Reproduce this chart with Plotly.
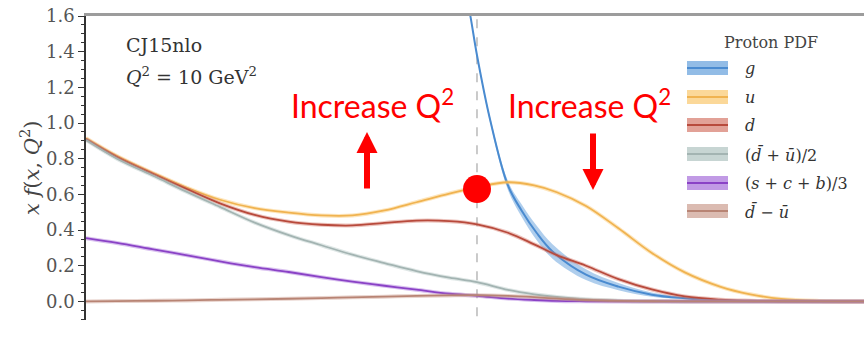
import plotly.graph_objects as go

# ---------------- data ----------------
x_grid = [0.01, 0.012, 0.015, 0.018, 0.022, 0.027, 0.033, 0.04, 0.048, 0.058, 0.07, 0.085,
          0.1, 0.12, 0.14, 0.16, 0.19, 0.23, 0.28, 0.34, 0.42, 0.5, 0.6, 0.75, 1.0]
u_vals = [0.915, 0.815, 0.715, 0.64, 0.57, 0.523, 0.498, 0.482, 0.482, 0.51, 0.556, 0.605,
          0.64, 0.668, 0.65, 0.612, 0.535, 0.41, 0.272, 0.163, 0.082, 0.04, 0.014, 0.003, 0.0]
d_vals = [0.91, 0.81, 0.71, 0.632, 0.55, 0.485, 0.447, 0.43, 0.426, 0.44, 0.453, 0.45,
          0.432, 0.385, 0.32, 0.26, 0.2, 0.125, 0.067, 0.028, 0.01, 0.004, 0.001, 0.0, 0.0]
sea_vals = [0.905, 0.80, 0.70, 0.617, 0.53, 0.442, 0.372, 0.315, 0.262, 0.215, 0.17, 0.133,
            0.108, 0.065, 0.04, 0.025, 0.012, 0.004, 0.001, 0.0, 0.0, 0.0, 0.0, 0.0, 0.0]
scb_vals = [0.355, 0.328, 0.29, 0.26, 0.225, 0.192, 0.165, 0.136, 0.111, 0.088, 0.066, 0.043,
            0.032, 0.016, 0.008, 0.003, 0.001, 0.0, 0.0, 0.0, 0.0, 0.0, 0.0, 0.0, 0.0]
dmu_vals = [0.0, 0.002, 0.004, 0.006, 0.009, 0.012, 0.015, 0.019, 0.023, 0.027, 0.031, 0.034,
            0.035, 0.031, 0.024, 0.016, 0.008, 0.003, 0.001, 0.0, 0.0, 0.0, 0.0, 0.0, 0.0]

g_x = [0.09, 0.096, 0.1, 0.108, 0.12, 0.13, 0.142, 0.156, 0.19, 0.23, 0.28, 0.34, 0.42, 0.53, 0.7, 1.0]
g_vals = [1.92, 1.61, 1.38, 1.02, 0.65, 0.51, 0.385, 0.28, 0.15, 0.083, 0.038, 0.018, 0.006, 0.001, 0.0, 0.0]
g_err = [0.01, 0.01, 0.012, 0.015, 0.025, 0.035, 0.04, 0.04, 0.03, 0.02, 0.012, 0.006, 0.003, 0.001, 0.0, 0.0]

ref_x = 0.1
dot_x = [0.1]
dot_y = [0.63]

y_ticks = [0.0, 0.2, 0.4, 0.6, 0.8, 1.0, 1.2, 1.4, 1.6]
y_tick_text = ["0.0", "0.2", "0.4", "0.6", "0.8", "1.0", "1.2", "1.4", "1.6"]

legend_labels = ["<i>g</i>", "<i>u</i>", "<i>d</i>", "(<i>d̄</i> + <i>ū</i>)/2",
                 "(<i>s</i> + <i>c</i> + <i>b</i>)/3", "<i>d̄</i> − <i>ū</i>"]
core_colors = ["#4a8bd0", "#f0b350", "#b84a3c", "#a3b4b2", "#8a42c6", "#b88474"]
band_colors = ["rgba(110,165,222,0.55)", "rgba(250,200,110,0.45)", "rgba(210,110,95,0.40)",
               "rgba(175,195,192,0.40)", "rgba(160,100,215,0.40)", "rgba(200,150,135,0.40)"]
swatch_colors = ["rgba(110,165,222,0.75)", "rgba(250,200,110,0.7)", "rgba(210,110,95,0.65)",
                 "rgba(175,195,192,0.7)", "rgba(160,100,215,0.65)", "rgba(200,150,135,0.65)"]

# ---------------- figure ----------------
fig = go.Figure()

# gluon band + line
g_lo = [v - e for v, e in zip(g_vals, g_err)]
g_hi = [v + e for v, e in zip(g_vals, g_err)]
fig.add_trace(go.Scatter(x=g_x, y=g_lo, mode="lines", line=dict(width=0, shape="spline"),
                         showlegend=False, hoverinfo="skip"))
fig.add_trace(go.Scatter(x=g_x, y=g_hi, mode="lines", line=dict(width=0, shape="spline"),
                         fill="tonexty", fillcolor=band_colors[0], showlegend=False, hoverinfo="skip"))
fig.add_trace(go.Scatter(x=g_x, y=g_vals, mode="lines",
                         line=dict(color=core_colors[0], width=2, shape="spline"), showlegend=False))

series = [u_vals, d_vals, sea_vals, scb_vals, dmu_vals]
for i, vals in enumerate(series, start=1):
    fig.add_trace(go.Scatter(x=x_grid, y=vals, mode="lines",
                             line=dict(color=band_colors[i], width=4, shape="spline"),
                             showlegend=False, hoverinfo="skip"))
    fig.add_trace(go.Scatter(x=x_grid, y=vals, mode="lines",
                             line=dict(color=core_colors[i], width=1.8, shape="spline"),
                             showlegend=False))

# red highlight dot
fig.add_trace(go.Scatter(x=dot_x, y=dot_y, mode="markers",
                         marker=dict(color="#ff0000", size=28, line=dict(width=0)),
                         showlegend=False, cliponaxis=False))

# vertical dashed reference line
shapes = [dict(type="line", xref="x", yref="paper", x0=ref_x, x1=ref_x, y0=0.012, y1=1,
               line=dict(color="#a8a8a8", width=1.2, dash="dash"), layer="below")]

# manual legend
PLOT_T, PLOT_H = 16, 304
def py2paper(py):
    return (PLOT_T + PLOT_H - py) / PLOT_H

legend_rows = [68, 97, 125, 154, 183, 211]
sx0, sx1 = (687 - 86) / 778, (728 - 86) / 778
annotations = []
for row, lab, cc, sc in zip(legend_rows, legend_labels, core_colors, swatch_colors):
    shapes.append(dict(type="rect", xref="paper", yref="paper", x0=sx0, x1=sx1,
                       y0=py2paper(row + 7), y1=py2paper(row - 7),
                       fillcolor=sc, line=dict(width=0)))
    shapes.append(dict(type="line", xref="paper", yref="paper", x0=sx0, x1=sx1,
                       y0=py2paper(row), y1=py2paper(row), line=dict(color=cc, width=2)))
    annotations.append(dict(xref="paper", yref="paper", x=(743 - 86) / 778, y=py2paper(row),
                            text=lab, showarrow=False, xanchor="left", yanchor="middle",
                            font=dict(family="DejaVu Serif", size=16, color="#333")))

annotations.append(dict(xref="paper", yref="paper", x=(771 - 86) / 778, y=py2paper(42),
                        text="Proton PDF", showarrow=False, xanchor="center", yanchor="middle",
                        font=dict(family="DejaVu Serif", size=16, color="#444")))

# upper-left labels
annotations.append(dict(xref="paper", yref="paper", x=(124 - 86) / 778, y=py2paper(45),
                        text="CJ15nlo", showarrow=False, xanchor="left", yanchor="middle",
                        font=dict(family="DejaVu Serif", size=19, color="#333")))
annotations.append(dict(xref="paper", yref="paper", x=(124 - 86) / 778, y=py2paper(76),
                        text="<i>Q</i><sup>2</sup> = 10 GeV<sup>2</sup>", showarrow=False,
                        xanchor="left", yanchor="middle",
                        font=dict(family="DejaVu Serif", size=19, color="#333")))

# y-axis title
annotations.append(dict(xref="paper", yref="paper", x=0, y=0.5, xshift=-56,
                        text="<i>x f</i>(<i>x</i>, <i>Q</i><sup>2</sup>)", textangle=-90,
                        showarrow=False, xanchor="center", yanchor="middle",
                        font=dict(family="DejaVu Serif", size=21, color="#444")))

# red "Increase Q²" labels
for cx in (372, 589):
    annotations.append(dict(xref="paper", yref="paper", x=(cx - 86) / 778, y=py2paper(104),
                            text="Increase Q<sup>2</sup>", showarrow=False,
                            xanchor="center", yanchor="middle",
                            font=dict(family="Lato", size=32, color="#ff0000")))

# red arrows
annotations.append(dict(xref="paper", yref="paper", x=(367 - 86) / 778, y=py2paper(132),
                        ax=0, ay=58, text="", showarrow=True, arrowhead=2, arrowsize=0.7,
                        arrowwidth=6, arrowcolor="#ff0000"))
annotations.append(dict(xref="paper", yref="paper", x=(593 - 86) / 778, y=py2paper(190),
                        ax=0, ay=-58, text="", showarrow=True, arrowhead=2, arrowsize=0.7,
                        arrowwidth=6, arrowcolor="#ff0000"))

# "x = 0.1" label
annotations.append(dict(xref="x", yref="paper", x=ref_x, y=py2paper(325),
                        text="x = 0.1", showarrow=False, xanchor="center", yanchor="middle",
                        font=dict(family="Lato", size=24, color="#000")))

fig.update_layout(
    width=864, height=340,
    margin=dict(l=86, r=0, t=16, b=20),
    paper_bgcolor="white", plot_bgcolor="white",
    shapes=shapes, annotations=annotations,
    showlegend=False,
    xaxis=dict(type="log", range=[-2, -0.0102], side="top", showline=True,
               linecolor="#9c9c9c", linewidth=3, showticklabels=False, ticks="",
               showgrid=False, zeroline=False),
    yaxis=dict(range=[-0.104, 1.6], tickvals=y_ticks, ticktext=y_tick_text,
               showline=True, linecolor="#333", linewidth=1.5, ticks="outside",
               ticklen=6, tickcolor="#333", tickwidth=1.2,
               minor=dict(dtick=0.05, ticks="outside", ticklen=3, tickcolor="#333"),
               tickfont=dict(family="DejaVu Serif", size=18, color="#555"),
               showgrid=False, zeroline=False),
)

fig.write_html("out.html")
